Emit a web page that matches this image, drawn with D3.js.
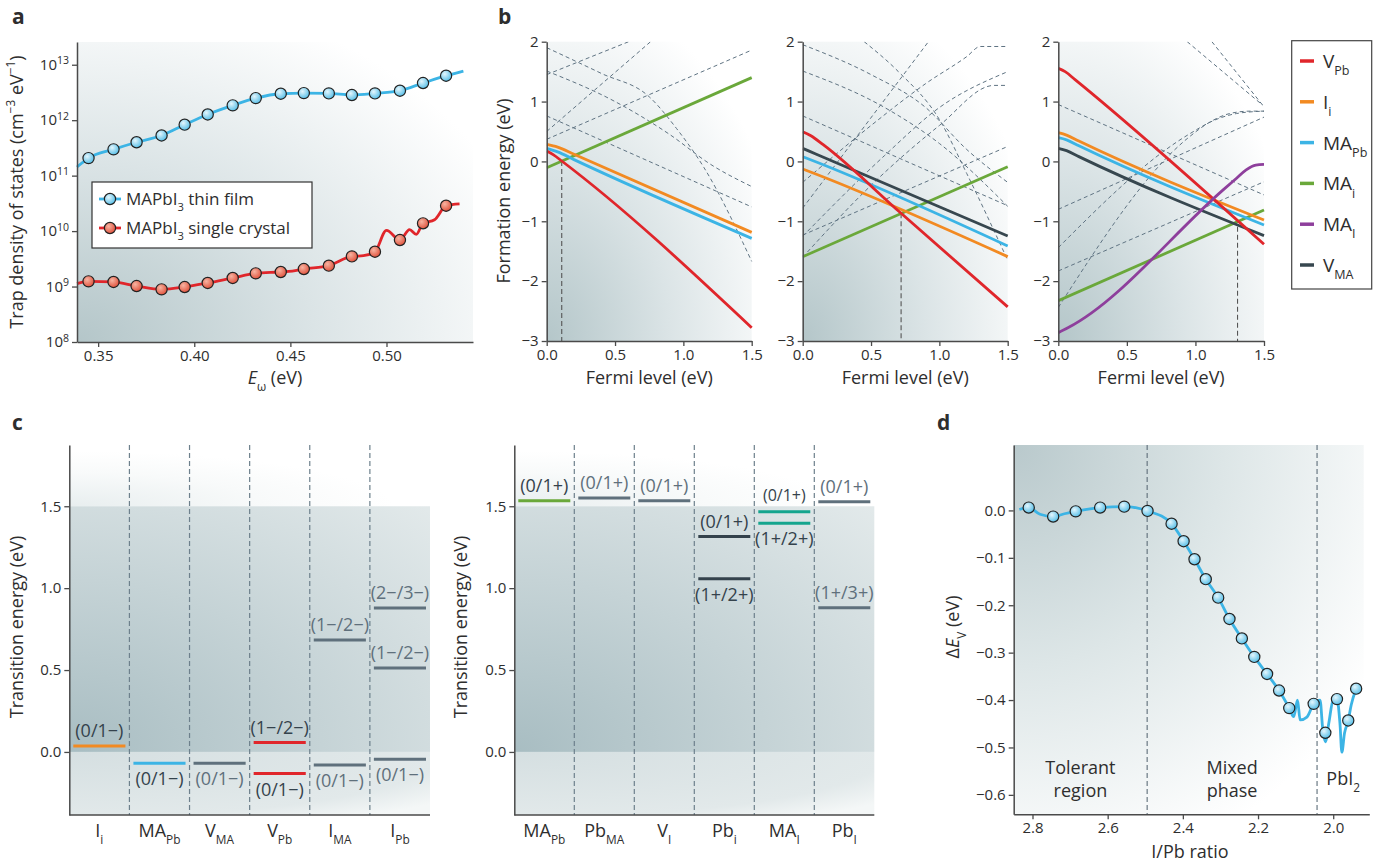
<!DOCTYPE html>
<html>
<head>
<meta charset="utf-8">
<script src="https://cdn.jsdelivr.net/npm/d3@7"></script>
<style>
  body { margin: 0; background: #fff; }
  svg { display: block; font-family: "Open Sans", "Noto Sans", sans-serif; }
</style>
</head>
<body>
<script>
// ---- panel a: trap density of states ----
const aEnergy = [0.345, 0.358, 0.370, 0.383, 0.395, 0.407, 0.420, 0.432, 0.445, 0.457, 0.470, 0.482, 0.494, 0.507, 0.519, 0.531];
const aFilmDos = [2.07e11, 2.98e11, 4.0e11, 5.3e11, 8.3e11, 1.27e12, 1.85e12, 2.5e12, 3.0e12, 3.08e12, 3.04e12, 2.84e12, 3.04e12, 3.4e12, 4.67e12, 6.34e12];
const aCrystalDos = [1.24e9, 1.21e9, 1.02e9, 8.9e8, 9.8e8, 1.16e9, 1.43e9, 1.73e9, 1.83e9, 2.07e9, 2.38e9, 3.5e9, 4.25e9, 6.9e9, 1.38e10, 2.87e10];
// fitted curves (run past the markers)
const aFilmFitE = [0.339, 0.345, 0.358, 0.370, 0.383, 0.395, 0.407, 0.420, 0.432, 0.445, 0.457, 0.470, 0.482, 0.494, 0.507, 0.519, 0.531, 0.540];
const aFilmFitDos = [1.43e11, 2.07e11, 2.98e11, 4.0e11, 5.3e11, 8.3e11, 1.27e12, 1.85e12, 2.5e12, 3.0e12, 3.08e12, 3.04e12, 2.84e12, 3.04e12, 3.4e12, 4.67e12, 6.34e12, 7.7e12];
const aCrystalFitE = [0.339, 0.345, 0.358, 0.370, 0.383, 0.395, 0.407, 0.420, 0.432, 0.445, 0.451, 0.457, 0.470, 0.482, 0.488, 0.494, 0.500, 0.507, 0.512, 0.5155, 0.519, 0.525, 0.531, 0.538];
const aCrystalFitDos = [1.13e9, 1.24e9, 1.21e9, 1.02e9, 8.9e8, 9.8e8, 1.16e9, 1.43e9, 1.73e9, 1.83e9, 1.9e9, 2.07e9, 2.38e9, 3.5e9, 3.6e9, 4.25e9, 1.03e10, 6.9e9, 1.06e10, 8.7e9, 1.38e10, 1.6e10, 2.87e10, 3.1e10];
const aXTicks = [0.35, 0.40, 0.45, 0.50];
const aYTicks = [1e8, 1e9, 1e10, 1e11, 1e12, 1e13];

// ---- panel b: formation energy vs Fermi level ----
const bSeries = ['V_Pb', 'I_i', 'MA_Pb', 'MA_i', 'MA_I', 'V_MA'];
const bXTicks = [0, 0.5, 1.0, 1.5];
const bYTicks = [-3, -2, -1, 0, 1, 2];
const b1Lines = {
  MA_i: [[0, -0.105], [1.5, 1.40]],
  MA_Pb: [[0, 0.218], [0.08, 0.16], [0.2, 0.03], [1.5, -1.285]],
  I_i: [[0, 0.285], [0.08, 0.24], [0.2, 0.12], [1.5, -1.185]],
  V_Pb: [[0, 0.174], [0.05, 0.11], [0.11, 0.007], [1.5, -2.777]]
};
const b2Lines = {
  MA_i: [[0, -1.591], [1.5, -0.088]],
  I_i: [[0, -0.127], [0.1, -0.215], [1.5, -1.591]],
  MA_Pb: [[0, 0.079], [0.1, -0.01], [1.5, -1.413]],
  V_MA: [[0, 0.218], [0.1, 0.12], [1.5, -1.246]],
  V_Pb: [[0, 0.497], [0.06, 0.43], [0.15, 0.28], [0.72, -0.867], [1.5, -2.43]]
};
const b3Lines = {
  MA_i: [[0, -2.326], [1.5, -0.812]],
  V_MA: [[0, 0.218], [0.06, 0.18], [0.15, 0.08], [1.5, -1.24]],
  MA_Pb: [[0, 0.396], [0.06, 0.36], [0.15, 0.26], [1.5, -1.062]],
  I_i: [[0, 0.48], [0.06, 0.44], [0.15, 0.34], [1.5, -0.979]],
  V_Pb: [[0, 1.555], [0.05, 1.50], [0.12, 1.37], [1.5, -1.385]],
  MA_I: [[0, -2.86], [0.07, -2.78], [1.2, -0.48], [1.3, -0.28], [1.37, -0.14], [1.44, -0.06], [1.5, -0.05]]
};
const b1Dashed = [
  [[0, 1.90], [0.4, 1.47], [0.75, 1.08], [0.95, 0.55], [1.15, -0.1], [1.5, -1.67]],
  [[0, 1.51], [0.5, 1.0], [0.9, 0.45], [1.2, -0.05], [1.5, -0.42]],
  [[0, 0.76], [1.5, -0.76]],
  [[0, 1.45], [0.6, 2.0]],
  [[0, 0.50], [0.76, 2.0]],
  [[0, 0.37], [1.5, 1.86]]
];
const b2Dashed = [
  [[0, 1.95], [0.5, 1.45], [0.9, 0.9], [1.2, 0.2], [1.5, -0.35]],
  [[0, 1.51], [0.6, 0.9], [1.0, 0.3], [1.5, -0.75]],
  [[0, 0.76], [1.5, -0.74]],
  [[0.45, 2.0], [0.7, 1.5], [1.0, 0.7], [1.2, -0.2], [1.5, -1.65]],
  [[0, -0.78], [0.92, 2.0]],
  [[0, -0.35], [0.5, 0.6], [0.9, 1.3], [1.2, 1.75], [1.3, 1.92], [1.5, 1.92]],
  [[0, -1.25], [0.6, 0.1], [1.0, 0.9], [1.5, 1.5]],
  [[0, -1.6], [0.5, -0.4], [1.0, 0.6], [1.4, 1.27], [1.5, 1.27]],
  [[0, -1.23], [1.5, 0.25]]
];
const b3Dashed = [
  [[0, 0.95], [1.5, -0.56]],
  [[0, -0.80], [1.5, 0.74]],
  [[0, -1.83], [1.5, -0.34]],
  [[0, -2.44], [0.95, 0.40], [1.1, 0.65], [1.25, 0.8], [1.4, 0.84], [1.5, 0.84]],
  [[0, -1.44], [0.95, 0.45], [1.15, 0.7], [1.3, 0.8], [1.5, 0.84]],
  [[0.94, 2.0], [1.49, 0.94]],
  [[1.12, 2.0], [1.49, 0.94]]
];
const bPinFermi = [0.11, 0.72, 1.307];
const bPinEnergy = [0.007, -0.867, -1.09];

// ---- panel c: transition levels ----
const cYTicks = [0, 0.5, 1.0, 1.5];
const cBandGap = [0, 1.5];
const cLeftCats = ['I_i', 'MA_Pb', 'V_MA', 'V_Pb', 'I_MA', 'I_Pb'];
const cLeftLevelCat = ['I_i', 'MA_Pb', 'V_MA', 'V_Pb', 'V_Pb', 'I_MA', 'I_MA', 'I_Pb', 'I_Pb', 'I_Pb'];
const cLeftLevelE = [0.037, -0.069, -0.069, 0.057, -0.132, 0.684, -0.079, 0.879, 0.513, -0.045];
const cLeftLevelLabel = ['(0/1−)', '(0/1−)', '(0/1−)', '(1−/2−)', '(0/1−)', '(1−/2−)', '(0/1−)', '(2−/3−)', '(1−/2−)', '(0/1−)'];
const cRightCats = ['MA_Pb', 'Pb_MA', 'V_I', 'Pb_i', 'MA_I', 'Pb_I'];
const cRightLevelCat = ['MA_Pb', 'Pb_MA', 'V_I', 'Pb_i', 'Pb_i', 'MA_I', 'MA_I', 'Pb_I', 'Pb_I'];
const cRightLevelE = [1.533, 1.551, 1.533, 1.315, 1.058, 1.466, 1.396, 1.527, 0.881];
const cRightLevelLabel = ['(0/1+)', '(0/1+)', '(0/1+)', '(0/1+)', '(1+/2+)', '(0/1+)', '(1+/2+)', '(0/1+)', '(1+/3+)'];

// ---- panel d: valence band shift ----
const dRatio = [2.81, 2.745, 2.685, 2.62, 2.556, 2.494, 2.43, 2.398, 2.369, 2.339, 2.306, 2.276, 2.243, 2.21, 2.176, 2.144, 2.117, 2.052, 2.021, 1.99, 1.96, 1.939];
const dShift = [0.006, -0.013, -0.002, 0.006, 0.008, -0.001, -0.028, -0.065, -0.103, -0.145, -0.184, -0.229, -0.270, -0.309, -0.345, -0.380, -0.417, -0.408, -0.469, -0.398, -0.443, -0.376];
const dFitRatio = [2.835, 2.81, 2.78, 2.745, 2.715, 2.685, 2.62, 2.556, 2.494, 2.43, 2.398, 2.369, 2.339, 2.306, 2.276, 2.243, 2.21, 2.176, 2.144, 2.117, 2.105, 2.095, 2.088, 2.07, 2.052, 2.035, 2.028, 2.021, 2.012, 2.0, 1.99, 1.982, 1.977, 1.97, 1.96, 1.952, 1.939];
const dFitShift = [0.002, 0.006, -0.008, -0.013, -0.007, -0.002, 0.006, 0.008, -0.001, -0.028, -0.065, -0.103, -0.145, -0.184, -0.229, -0.270, -0.309, -0.345, -0.380, -0.417, -0.435, -0.40, -0.442, -0.436, -0.408, -0.40, -0.46, -0.488, -0.45, -0.40, -0.398, -0.45, -0.51, -0.47, -0.443, -0.41, -0.376];
const dBoundaries = [2.495, 2.043];
const dRegions = [['Tolerant', 'region'], ['Mixed', 'phase'], ['PbI_2']];
const dXTicks = [2.8, 2.6, 2.4, 2.2, 2.0];
const dYTicks = [0, -0.1, -0.2, -0.3, -0.4, -0.5, -0.6];

// ---- styling ----
const TXT = '#2e2e2e';
const AXIS = '#4a4a4a';
const DASH = '#5f7382';
const seriesColor = { V_Pb: '#e0262b', I_i: '#f28a22', MA_Pb: '#3cb4e5', MA_i: '#6aa83a', MA_I: '#8e3f9c', V_MA: '#37474f' };
const levelDark = '#34424c', levelGray = '#5f707c';

const svg = d3.select('body').append('svg').attr('width', 1383).attr('height', 865);
const defs = svg.append('defs');

function radial(id, cx, cy, r, stops) {
  const g = defs.append('radialGradient').attr('id', id)
    .attr('cx', cx).attr('cy', cy).attr('fx', cx).attr('fy', cy).attr('r', r);
  stops.forEach(([o, c]) => g.append('stop').attr('offset', o).attr('stop-color', c));
}
radial('shadeBL', 0, 1, 1.2, [[0, '#b4c6c9'], [0.5, '#dbe4e6'], [1, '#ffffff']]);
radial('shadeTL', 0, 0, 1.2, [[0, '#b9c9cc'], [0.5, '#dde6e7'], [1, '#ffffff']]);
radial('bandShade', 0, 1, 1.4, [[0, '#a8bdc2'], [1, '#e2e9ea']]);
radial('topShade', 0, 1, 0.9, [[0, '#e8eeef'], [0.6, '#f8fafa'], [1, '#ffffff']]);
radial('lowShade', 0, 0, 1.3, [[0, '#d5dfe1'], [0.8, '#e2e9ea'], [1, '#f4f7f7']]);
radial('markBlue', 0.38, 0.35, 0.75, [[0, '#e4f6fd'], [1, '#45b8e5']]);
radial('markRed', 0.38, 0.35, 0.75, [[0, '#f7b4a2'], [1, '#de4630']]);

function rich(text, parts, size) {
  let cur = 0;
  parts.forEach(p => {
    const off = p.sup ? -0.42 * size : p.sub ? 0.38 * size : 0;
    const ts = text.append('tspan').text(p.t);
    if (off !== cur) ts.attr('dy', off - cur);
    if (p.sup || p.sub) ts.attr('font-size', size * 0.66);
    if (p.it) ts.attr('font-style', 'italic');
    cur = off;
  });
  return text;
}
function label(x, y, parts, size, opts = {}) {
  const t = svg.append('text').attr('x', x).attr('y', y).attr('font-size', size)
    .attr('fill', opts.fill || TXT).attr('text-anchor', opts.anchor || 'middle');
  if (opts.rotate) t.attr('transform', `rotate(-90,${x},${y})`);
  if (opts.bold) t.attr('font-weight', 'bold');
  return rich(t, parts, size);
}
function defect(name) {
  const [b, s] = name.split('_');
  return s ? [{ t: b }, { t: s, sub: true }] : [{ t: b }];
}
function styleAxis(g) {
  g.attr('font-family', null).attr('font-size', 15);
  g.select('.domain').attr('stroke', AXIS).attr('stroke-width', 1.5);
  g.selectAll('.tick line').attr('stroke', AXIS).attr('stroke-width', 1.3);
  g.selectAll('.tick text').attr('fill', TXT);
  return g;
}

// ================= panel a =================
const aX = d3.scaleLinear().domain([0.339, 0.545]).range([77, 473]);
const aY = d3.scaleLog().domain([1e8, 2.57e13]).range([342, 42]);
svg.append('rect').attr('x', 77).attr('y', 42).attr('width', 396).attr('height', 300).attr('fill', 'url(#shadeBL)');

const aLine = d3.line().x(d => aX(d[0])).y(d => aY(d[1])).curve(d3.curveMonotoneX);
svg.append('path').datum(d3.zip(aFilmFitE, aFilmFitDos)).attr('d', aLine)
  .attr('fill', 'none').attr('stroke', '#3cb4e5').attr('stroke-width', 2.8);
svg.append('path').datum(d3.zip(aCrystalFitE, aCrystalFitDos)).attr('d', aLine)
  .attr('fill', 'none').attr('stroke', '#e0262b').attr('stroke-width', 2.8);

function markers(data, x, y, fill) {
  svg.append('g').selectAll('circle').data(data).join('circle')
    .attr('cx', d => x(d[0])).attr('cy', d => y(d[1])).attr('r', 5.6)
    .attr('fill', fill).attr('stroke', '#222').attr('stroke-width', 1.2);
}
markers(d3.zip(aEnergy, aFilmDos), aX, aY, 'url(#markBlue)');
markers(d3.zip(aEnergy, aCrystalDos), aX, aY, 'url(#markRed)');

styleAxis(svg.append('g').attr('transform', 'translate(0,342)')
  .call(d3.axisBottom(aX).tickValues(aXTicks).tickFormat(d3.format('.2f')).tickSize(5).tickSizeOuter(0)));
const aYAxis = styleAxis(svg.append('g').attr('transform', 'translate(77,0)')
  .call(d3.axisLeft(aY).tickValues(aYTicks).tickSize(5).tickSizeOuter(0)));
aYAxis.selectAll('.tick text').each(function (d) {
  const t = d3.select(this).text('10');
  t.append('tspan').attr('dy', '-0.55em').attr('font-size', 10.5).text(Math.round(Math.log10(d)));
});

// legend a
svg.append('rect').attr('x', 92).attr('y', 182).attr('width', 220).attr('height', 66)
  .attr('fill', '#fff').attr('stroke', '#333').attr('stroke-width', 1.2);
[['#3cb4e5', 'url(#markBlue)', ' thin film'], ['#e0262b', 'url(#markRed)', ' single crystal']].forEach((e, i) => {
  const y = 199 + i * 29;
  svg.append('line').attr('x1', 99).attr('x2', 121).attr('y1', y).attr('y2', y).attr('stroke', e[0]).attr('stroke-width', 2.8);
  svg.append('circle').attr('cx', 110).attr('cy', y).attr('r', 5.6).attr('fill', e[1]).attr('stroke', '#222').attr('stroke-width', 1.2);
  label(126, y + 6, [{ t: 'MAPbI' }, { t: '3', sub: true }, { t: e[2] }], 17, { anchor: 'start' });
});

label(12, 24, [{ t: 'a' }], 21, { anchor: 'start', bold: true });
label(23, 192, [{ t: 'Trap density of states (cm' }, { t: '−3', sup: true }, { t: ' eV' }, { t: '−1', sup: true }, { t: ')' }], 18, { rotate: true });
label(275, 384, [{ t: 'E', it: true }, { t: 'ω', sub: true }, { t: ' (eV)' }], 18);

// ================= panel b =================
const bY = d3.scaleLinear().domain([-3, 2]).range([341, 41.7]);
const bPanels = [
  { x0: 546.7, x1: 751.7, lines: b1Lines, dashed: b1Dashed },
  { x0: 802.7, x1: 1007.7, lines: b2Lines, dashed: b2Dashed },
  { x0: 1058.3, x1: 1264, lines: b3Lines, dashed: b3Dashed }
];
bPanels.forEach((p, i) => {
  const x = d3.scaleLinear().domain([0, 1.5]).range([p.x0, p.x1]);
  const w = p.x1 - p.x0;
  svg.append('rect').attr('x', p.x0).attr('y', 41.7).attr('width', w).attr('height', 299.3).attr('fill', 'url(#shadeBL)');
  defs.append('clipPath').attr('id', 'clipB' + i).append('rect')
    .attr('x', p.x0).attr('y', 41.7).attr('width', w + 4).attr('height', 299.3);
  const g = svg.append('g').attr('clip-path', `url(#clipB${i})`);
  const line = d3.line().x(d => x(d[0])).y(d => bY(d[1])).curve(d3.curveMonotoneX);
  g.selectAll('path.dash').data(p.dashed).join('path').attr('class', 'dash')
    .attr('d', line).attr('fill', 'none').attr('stroke', DASH).attr('stroke-width', 1)
    .attr('stroke-dasharray', '4,3');
  g.append('line').attr('x1', x(bPinFermi[i])).attr('x2', x(bPinFermi[i]))
    .attr('y1', bY(bPinEnergy[i])).attr('y2', bY(-3))
    .attr('stroke', '#555').attr('stroke-width', 1.1).attr('stroke-dasharray', '5,3');
  Object.entries(p.lines).forEach(([k, pts]) => {
    g.append('path').datum(pts).attr('d', line).attr('fill', 'none')
      .attr('stroke', seriesColor[k]).attr('stroke-width', 2.8);
  });
  styleAxis(svg.append('g').attr('transform', 'translate(0,341)')
    .call(d3.axisBottom(x).tickValues(bXTicks).tickFormat(d3.format('.1f')).tickSize(5).tickSizeOuter(0)));
  styleAxis(svg.append('g').attr('transform', `translate(${p.x0},0)`)
    .call(d3.axisLeft(bY).tickValues(bYTicks).tickFormat(d3.format('d')).tickSize(5).tickSizeOuter(0)));
  label((p.x0 + p.x1) / 2, 384, [{ t: 'Fermi level (eV)' }], 18);
});
label(498, 24, [{ t: 'b' }], 21, { anchor: 'start', bold: true });
label(510, 191, [{ t: 'Formation energy (eV)' }], 18, { rotate: true });

// legend b
svg.append('rect').attr('x', 1291.7).attr('y', 40.7).attr('width', 80).attr('height', 248.3)
  .attr('fill', '#fff').attr('stroke', '#444').attr('stroke-width', 1.2);
bSeries.forEach((k, i) => {
  const y = 61 + i * 40.8;
  svg.append('line').attr('x1', 1300).attr('x2', 1314).attr('y1', y).attr('y2', y)
    .attr('stroke', seriesColor[k]).attr('stroke-width', 3.5);
  label(1323, y + 7, defect(k), 19, { anchor: 'start' });
});

// ================= panel c =================
const cY = d3.scaleLinear().domain([-0.385, 1.874]).range([815, 445]);
const cLevelLook = {
  L: { I_i: ['#f28a22', levelDark], MA_Pb: ['#3cb4e5', levelDark], V_MA: [levelGray, levelGray], V_Pb: ['#e0262b', levelDark], I_MA: [levelGray, levelGray], I_Pb: [levelGray, levelGray] },
  R: { MA_Pb: ['#6aa83a', levelDark], Pb_MA: [levelGray, levelGray], V_I: [levelGray, levelGray], Pb_i: ['#34424c', levelDark], MA_I: ['#14a58e', levelDark], Pb_I: [levelGray, levelGray] }
};
const cLabelBelow = { L: [false, true, true, false, true, false, true, false, false, true], R: [false, false, false, false, true, false, true, false, false] };
const cHalves = [
  { key: 'L', x0: 69.3, x1: 430, cats: cLeftCats, lc: cLeftLevelCat, le: cLeftLevelE, ll: cLeftLevelLabel, yl: 23 },
  { key: 'R', x0: 514.3, x1: 874.3, cats: cRightCats, lc: cRightLevelCat, le: cRightLevelE, ll: cRightLevelLabel, yl: 467 }
];
cHalves.forEach(h => {
  const x = d3.scaleBand().domain(h.cats).range([h.x0, h.x1]);
  const w = h.x1 - h.x0;
  svg.append('rect').attr('x', h.x0).attr('y', 445).attr('width', w).attr('height', cY(cBandGap[1]) - 445).attr('fill', 'url(#topShade)');
  svg.append('rect').attr('x', h.x0).attr('y', cY(cBandGap[1])).attr('width', w)
    .attr('height', cY(cBandGap[0]) - cY(cBandGap[1])).attr('fill', 'url(#bandShade)');
  svg.append('rect').attr('x', h.x0).attr('y', cY(cBandGap[0])).attr('width', w)
    .attr('height', 815 - cY(cBandGap[0])).attr('fill', 'url(#lowShade)');
  svg.append('g').selectAll('line').data(h.cats.slice(1)).join('line')
    .attr('x1', d => x(d)).attr('x2', d => x(d)).attr('y1', 445).attr('y2', 815)
    .attr('stroke', '#6d808c').attr('stroke-width', 1.2).attr('stroke-dasharray', '5,3');
  h.lc.forEach((cat, i) => {
    const look = cLevelLook[h.key][cat];
    const y = cY(h.le[i]);
    svg.append('line').attr('x1', x(cat) + 4).attr('x2', x(cat) + x.bandwidth() - 4)
      .attr('y1', y).attr('y2', y).attr('stroke', look[0]).attr('stroke-width', 3);
    const below = cLabelBelow[h.key][i];
    const small = cat === 'MA_I' && !below;
    label(x(cat) + x.bandwidth() / 2, below ? y + 22 : y - (small ? 11 : 9), [{ t: h.ll[i] }], small ? 16 : 18, { fill: look[1] });
  });
  styleAxis(svg.append('g').attr('transform', `translate(${h.x0},0)`)
    .call(d3.axisLeft(cY).tickValues(cYTicks).tickFormat(d3.format('.1f')).tickSize(5).tickSizeOuter(0)));
  svg.append('line').attr('x1', h.x0).attr('x2', h.x1).attr('y1', 815).attr('y2', 815)
    .attr('stroke', AXIS).attr('stroke-width', 1.5);
  h.cats.forEach(cat => label(x(cat) + x.bandwidth() / 2, 837, defect(cat), 18));
  label(h.yl, 627, [{ t: 'Transition energy (eV)' }], 18, { rotate: true });
});
label(12, 430, [{ t: 'c' }], 21, { anchor: 'start', bold: true });

// ================= panel d =================
const dX = d3.scaleLinear().domain([2.85, 1.904]).range([1013.7, 1369.3]);
const dY = d3.scaleLinear().domain([-0.641, 0.138]).range([814.3, 445]);
svg.append('rect').attr('x', 1013.7).attr('y', 445).attr('width', 350).attr('height', 369.3).attr('fill', 'url(#shadeTL)');
svg.append('g').selectAll('line').data(dBoundaries).join('line')
  .attr('x1', d => dX(d)).attr('x2', d => dX(d)).attr('y1', 445).attr('y2', 814.3)
  .attr('stroke', '#5d6d78').attr('stroke-width', 1.1).attr('stroke-dasharray', '5,3');
svg.append('path').datum(d3.zip(dFitRatio, dFitShift))
  .attr('d', d3.line().x(d => dX(d[0])).y(d => dY(d[1])).curve(d3.curveMonotoneX))
  .attr('fill', 'none').attr('stroke', '#3cb4e5').attr('stroke-width', 2.8);
markers(d3.zip(dRatio, dShift), dX, dY, 'url(#markBlue)');

const dEdges = [dX.domain()[0], ...dBoundaries, dX.domain()[1]];
dRegions.forEach((lines, i) => {
  const cx = (dX(dEdges[i]) + dX(dEdges[i + 1])) / 2;
  if (lines.length === 2) {
    label(cx, 774, [{ t: lines[0] }], 18);
    label(cx, 797, [{ t: lines[1] }], 18);
  } else {
    label(cx, 785, defect(lines[0]), 18);
  }
});
styleAxis(svg.append('g').attr('transform', 'translate(0,814.3)')
  .call(d3.axisBottom(dX).tickValues(dXTicks).tickFormat(d3.format('.1f')).tickSize(5).tickSizeOuter(0)));
styleAxis(svg.append('g').attr('transform', 'translate(1013.7,0)')
  .call(d3.axisLeft(dY).tickValues(dYTicks).tickFormat(d3.format('.1f')).tickSize(5).tickSizeOuter(0)));
label(937, 430, [{ t: 'd' }], 21, { anchor: 'start', bold: true });
label(959, 627, [{ t: 'Δ' }, { t: 'E', it: true }, { t: 'V', sub: true }, { t: ' (eV)' }], 18, { rotate: true });
label(1190, 858, [{ t: 'I/Pb ratio' }], 18);
</script>
</body>
</html>
